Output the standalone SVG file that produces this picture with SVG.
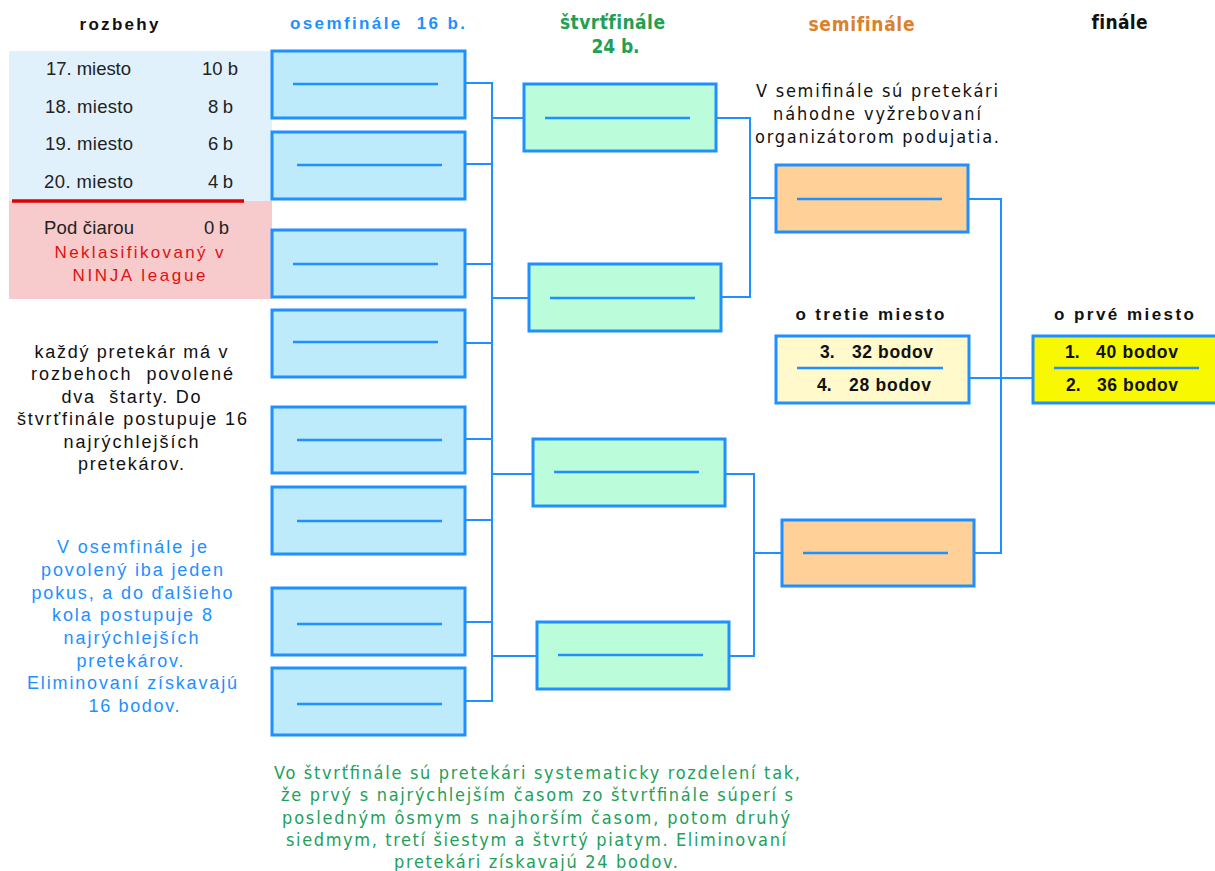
<svg xmlns="http://www.w3.org/2000/svg" width="1215" height="871" viewBox="0 0 1215 871">
<style>
.r16{fill:#BDEBFC;stroke:#1E90FF;stroke-width:3}
.qf{fill:#BBFCDA;stroke:#1E90FF;stroke-width:3}
.sf{fill:#FFD098;stroke:#1E90FF;stroke-width:3}
.third{fill:#FFF9CC;stroke:#1E90FF;stroke-width:3}
.fin{fill:#F8F800;stroke:#1E90FF;stroke-width:3}
.ln{stroke:#1E90FF;stroke-width:2.5;fill:none}
.cn{stroke:#1E90FF;stroke-width:2;fill:none}
text{font-family:"Liberation Sans",Arial,sans-serif;white-space:pre}
.hd{font-weight:bold;font-size:17px;letter-spacing:2px}
.cond{font-family:"DejaVu Sans Condensed","Liberation Sans Narrow","Liberation Sans",sans-serif}
.hc{font-size:19px;letter-spacing:1px}
.tb{font-size:18.5px;fill:#222}
.para{font-size:18px;text-anchor:middle}
.pts{font-weight:bold;font-size:17.5px;fill:#111}
</style>

<g id="headers">
<text class="hd" x="120" y="30" text-anchor="middle" textLength="81" fill="#111">rozbehy</text>
<text class="hd" x="290" y="29" textLength="177" fill="#1E90FF" xml:space="preserve">osemfinále  16 b.</text>
<text class="hd cond hc" x="613" y="29" text-anchor="middle" textLength="106" fill="#1FA055">štvrťfinále</text>
<text class="hd cond hc" x="616" y="53" text-anchor="middle" textLength="49" fill="#1FA055">24 b.</text>
<text class="hd cond hc" x="862" y="31" text-anchor="middle" textLength="107" fill="#D9822B">semifinále</text>
<text class="hd cond hc" x="1120" y="29" text-anchor="middle" textLength="57" fill="#111">finále</text>
</g>

<g id="table">
<rect x="9" y="51" width="263" height="150" fill="#E0F1FC"/>
<rect x="9" y="201" width="263" height="98" fill="#F7CBCC"/>
<line x1="12" y1="201" x2="244" y2="201" stroke="#E00000" stroke-width="3.5"/>
<text class="tb" x="46" y="75" textLength="85">17. miesto</text>
<text class="tb" x="202" y="75" textLength="36">10 b</text>
<text class="tb" x="45" y="113" textLength="88">18. miesto</text>
<text class="tb" x="208" y="113" textLength="25">8 b</text>
<text class="tb" x="45" y="150" textLength="88">19. miesto</text>
<text class="tb" x="208" y="150" textLength="25">6 b</text>
<text class="tb" x="44" y="188" textLength="89">20. miesto</text>
<text class="tb" x="208" y="188" textLength="25">4 b</text>
<text class="tb" x="44" y="234" textLength="90">Pod čiarou</text>
<text class="tb" x="204" y="234" textLength="25">0 b</text>
<text x="139" y="258" font-size="17" fill="#E01010" text-anchor="middle" textLength="169">Neklasifikovaný v</text>
<text x="139" y="281" font-size="17" fill="#E01010" text-anchor="middle" textLength="133">NINJA league</text>
</g>

<g id="note-rozbehy" fill="#111">
<text class="para" x="131" y="358" textLength="193">každý pretekár má v</text>
<text class="para" x="132" y="380" textLength="202" xml:space="preserve">rozbehoch  povolené</text>
<text class="para" x="131" y="403" textLength="139" xml:space="preserve">dva  štarty. Do</text>
<text class="para" x="132" y="425" textLength="230">štvrťfinále postupuje 16</text>
<text class="para" x="131" y="448" textLength="135">najrýchlejších</text>
<text class="para" x="131" y="470" textLength="106">pretekárov.</text>
</g>

<g id="note-osemfinale" fill="#1E90FF">
<text class="para" x="132" y="553" textLength="150">V osemfinále je</text>
<text class="para" x="132" y="576" textLength="182">povolený iba jeden</text>
<text class="para" x="132" y="599" textLength="201">pokus, a do ďalšieho</text>
<text class="para" x="132" y="621" textLength="160">kola postupuje 8</text>
<text class="para" x="131" y="644" textLength="135">najrýchlejších</text>
<text class="para" x="130" y="667" textLength="107">pretekárov.</text>
<text class="para" x="132" y="689" textLength="210">Eliminovaní získavajú</text>
<text class="para" x="134" y="712" textLength="91">16 bodov.</text>
</g>

<g id="note-semifinale" fill="#111">
<text class="para cond" x="877" y="97" font-size="19" textLength="242">V semifinále sú pretekári</text>
<text class="para cond" x="877" y="120" font-size="19" textLength="208">náhodne vyžrebovaní</text>
<text class="para cond" x="877" y="143" font-size="19" textLength="244">organizátorom podujatia.</text>
</g>

<g id="note-stvrtfinale" fill="#22A05A">
<text class="para cond" x="537" y="779" font-size="19" textLength="526">Vo štvrťfinále sú pretekári systematicky rozdelení tak,</text>
<text class="para cond" x="537" y="801" font-size="19" textLength="512">že prvý s najrýchlejším časom zo štvrťfinále súperí s</text>
<text class="para cond" x="536" y="824" font-size="19" textLength="508">posledným ôsmym s najhorším časom, potom druhý</text>
<text class="para cond" x="536" y="846" font-size="19" textLength="500">siedmym, tretí šiestym a štvrtý piatym. Eliminovaní</text>
<text class="para cond" x="536" y="868" font-size="19" textLength="284">pretekári získavajú 24 bodov.</text>
</g>

<g id="connectors">
<path class="cn" d="M465 83H492M465 164H492M465 264H492M465 343H492M465 439H492M465 520H492M465 622H492M465 701H492"/>
<path class="cn" d="M492 82V702"/>
<path class="cn" d="M492 118H524M492 298H529M492 474H533M492 656H537"/>
<path class="cn" d="M716 118H750V297H721M750 198H776"/>
<path class="cn" d="M725 474H754V656H729M754 553H782"/>
<path class="cn" d="M968 199H1001V553H974"/>
<path class="cn" d="M969 378H1033"/>
</g>

<g id="r16-1"><rect class="r16" x="272" y="51" width="193" height="67"/><line class="ln" x1="293" y1="84" x2="438" y2="84"/></g>
<g id="r16-2"><rect class="r16" x="272" y="132" width="193" height="67"/><line class="ln" x1="297" y1="165" x2="442" y2="165"/></g>
<g id="r16-3"><rect class="r16" x="272" y="230" width="193" height="67"/><line class="ln" x1="293" y1="264" x2="438" y2="264"/></g>
<g id="r16-4"><rect class="r16" x="272" y="310" width="193" height="67"/><line class="ln" x1="293" y1="342" x2="438" y2="342"/></g>
<g id="r16-5"><rect class="r16" x="272" y="407" width="193" height="66"/><line class="ln" x1="297" y1="440" x2="442" y2="440"/></g>
<g id="r16-6"><rect class="r16" x="272" y="487" width="193" height="67"/><line class="ln" x1="297" y1="521" x2="442" y2="521"/></g>
<g id="r16-7"><rect class="r16" x="272" y="588" width="193" height="67"/><line class="ln" x1="297" y1="624" x2="442" y2="624"/></g>
<g id="r16-8"><rect class="r16" x="272" y="668" width="193" height="67"/><line class="ln" x1="297" y1="704" x2="442" y2="704"/></g>

<g id="qf-1"><rect class="qf" x="524" y="84" width="192" height="67"/><line class="ln" x1="545" y1="118" x2="690" y2="118"/></g>
<g id="qf-2"><rect class="qf" x="529" y="264" width="192" height="67"/><line class="ln" x1="550" y1="298" x2="695" y2="298"/></g>
<g id="qf-3"><rect class="qf" x="533" y="439" width="192" height="67"/><line class="ln" x1="554" y1="472" x2="699" y2="472"/></g>
<g id="qf-4"><rect class="qf" x="537" y="622" width="192" height="67"/><line class="ln" x1="558" y1="655" x2="703" y2="655"/></g>

<g id="sf-1"><rect class="sf" x="776" y="165" width="192" height="67"/><line class="ln" x1="797" y1="199" x2="942" y2="199"/></g>
<g id="sf-2"><rect class="sf" x="782" y="520" width="192" height="66"/><line class="ln" x1="803" y1="553" x2="948" y2="553"/></g>

<g id="third-place">
<text class="hd" x="871" y="320" text-anchor="middle" textLength="151" fill="#111" letter-spacing="1">o tretie miesto</text>
<rect class="third" x="776" y="336" width="193" height="67"/>
<line class="ln" x1="797" y1="368" x2="943" y2="368"/>
<text class="pts" x="820" y="358">3.</text>
<text class="pts" x="852" y="358" textLength="81">32 bodov</text>
<text class="pts" x="817" y="391">4.</text>
<text class="pts" x="849" y="391" textLength="82">28 bodov</text>
</g>

<g id="final">
<text class="hd" x="1125" y="320" text-anchor="middle" textLength="142" fill="#111" letter-spacing="1">o prvé miesto</text>
<rect class="fin" x="1033" y="336" width="190" height="67"/>
<line class="ln" x1="1054" y1="368" x2="1199" y2="368"/>
<text class="pts" x="1065" y="358">1.</text>
<text class="pts" x="1096" y="358" textLength="82">40 bodov</text>
<text class="pts" x="1066" y="391">2.</text>
<text class="pts" x="1097" y="391" textLength="81">36 bodov</text>
</g>
</svg>
